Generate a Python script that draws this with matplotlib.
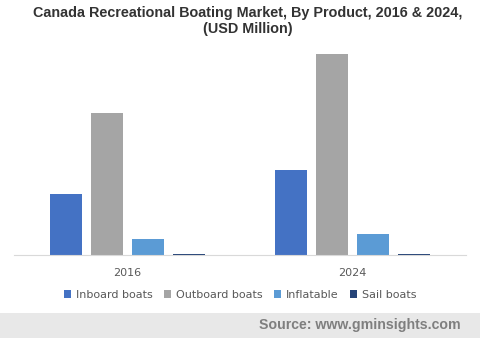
import numpy as np
import matplotlib
matplotlib.use('Agg')
import matplotlib.pyplot as plt
from matplotlib.patches import Rectangle

# Market size by product, USD million
years = ['2016', '2024']
products = ['Inboard boats', 'Outboard boats', 'Inflatable', 'Sail boats']
inboard = [610, 850]
outboard = [1420, 2010]
inflatable = [160, 210]
sail = [13, 13]
colors = ['#4472C4', '#A5A5A5', '#5B9BD5', '#264478']

fig = plt.figure(figsize=(4.8, 3.38), dpi=100)
ax = fig.add_axes([14 / 480, 83 / 338, 452 / 480, 205 / 338])

x = np.arange(len(years))
width = 0.142
step = 0.182
for i, (vals, name) in enumerate(zip([inboard, outboard, inflatable, sail], products)):
    ax.bar(x + (i - 1.5) * step, vals, width, color=colors[i], label=name)

ax.set_xlim(-0.504, 1.504)
ax.set_ylim(0, 2050)
ax.set_yticks([])
ax.set_xticks(x)
ax.set_xticklabels(years, fontsize=8, color='#595959', family='DejaVu Sans')
ax.tick_params(axis='x', length=0, pad=9)
for side in ['top', 'right', 'left']:
    ax.spines[side].set_visible(False)
ax.spines['bottom'].set_color('#d9d9d9')

fig.text(0.516, 0.982, 'Canada Recreational Boating Market, By Product, 2016 & 2024,\n(USD Million)',
         ha='center', va='top', fontsize=10.4, fontweight='bold', color='#333333',
         family='Liberation Sans', linespacing=1.2)

leg = fig.legend(loc='center', bbox_to_anchor=(0.5, 1 - 295 / 338), ncol=4, frameon=False,
                 handlelength=0.7, handleheight=0.7, handletextpad=0.4,
                 columnspacing=1.0, prop={'family': 'DejaVu Sans', 'size': 8})
for t in leg.get_texts():
    t.set_color('#595959')

# footer band with source
fig.patches.append(Rectangle((0, 0), 1, 25 / 338, transform=fig.transFigure,
                             facecolor='#e8e8e8', edgecolor='none', zorder=0))
fig.text(461 / 480, 13 / 338, 'Source: www.gminsights.com', ha='right', va='center',
         fontsize=10.2, fontweight='bold', color='#7f7f7f', family='Liberation Sans')

fig.savefig('out.png', dpi=100)
